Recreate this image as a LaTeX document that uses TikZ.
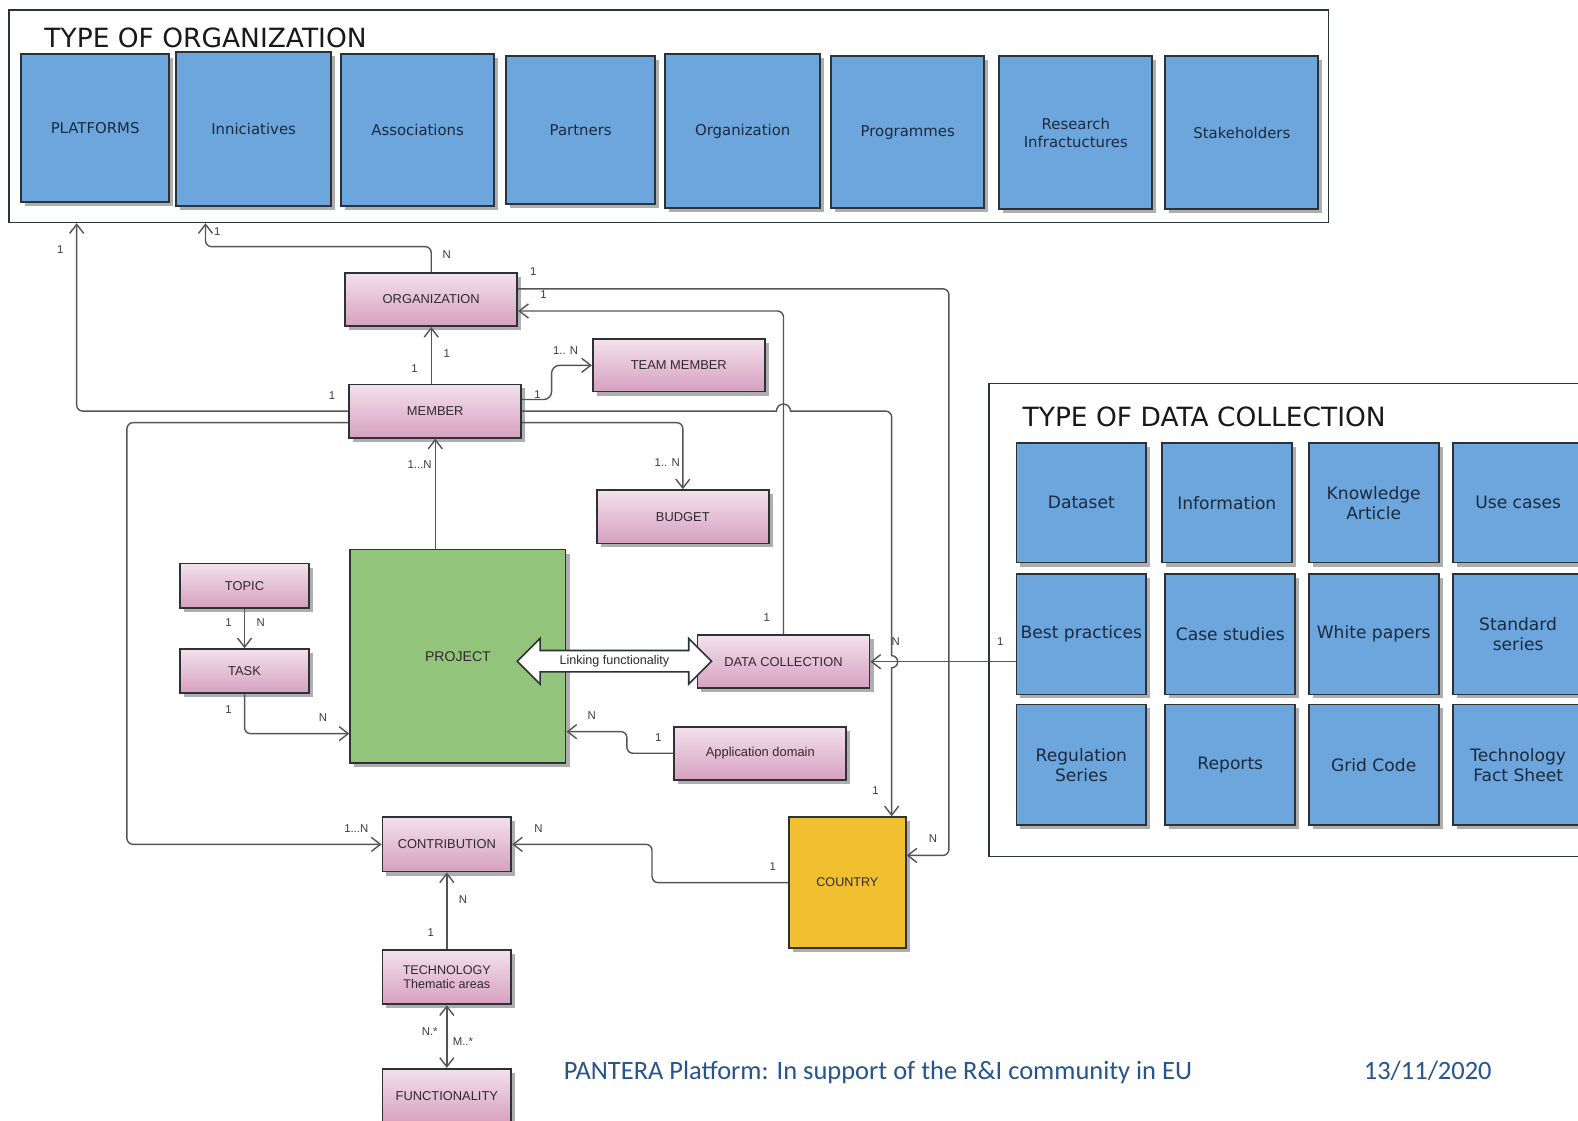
\documentclass[tikz,border=0pt]{standalone}
\usepackage{fontspec}
\newfontfamily\verd{DejaVu Sans}
\newfontfamily\arl{Liberation Sans}
\newfontfamily\calfont{Carlito}
\usetikzlibrary{arrows.meta,shadows,shapes.arrows,calc}
\definecolor{bluefill}{RGB}{108,166,220}
\definecolor{bluetext}{RGB}{28,42,62}
\definecolor{boxline}{RGB}{45,50,55}
\definecolor{pinktop}{RGB}{243,225,235}
\definecolor{pinkbot}{RGB}{214,160,192}
\definecolor{pinktext}{RGB}{50,40,48}
\definecolor{greenfill}{RGB}{146,196,124}
\definecolor{yellowfill}{RGB}{240,192,48}
\definecolor{conncolor}{RGB}{85,85,85}
\definecolor{labelcolor}{RGB}{60,60,60}
\definecolor{footblue}{RGB}{38,84,140}
\tikzset{
  shad/.style={drop shadow={shadow xshift=4pt,shadow yshift=-4pt,fill=black!45,opacity=0.7}},
  bluebox/.style={draw=boxline, line width=1.8pt, fill=bluefill, shad, text=bluetext,
    font=\verd\fontsize{14.8}{18}\selectfont, inner sep=2pt, align=center},
  dcbox/.style={bluebox, font=\verd\fontsize{17}{20}\selectfont, minimum width=129pt, minimum height=119pt},
  pinkbox/.style={draw=boxline, line width=1.8pt, top color=pinktop, bottom color=pinkbot, shad,
    text=pinktext, font=\arl\fontsize{12.8}{14}\selectfont, align=center, inner sep=2pt},
  solidbox/.style={draw=boxline, line width=1.8pt, shad, text=pinktext, font=\arl\fontsize{14}{16}\selectfont, inner sep=2pt},
  framebox/.style={draw=boxline, line width=1.6pt, inner sep=0pt},
  conn/.style={draw=conncolor, line width=1.4pt, rounded corners=6pt, -{Straight Barb[length=9pt,width=14pt]}},
  lbl/.style={font=\arl\fontsize{11.3}{12}\selectfont, text=labelcolor, inner sep=0pt},
  title/.style={anchor=base west, inner sep=0pt, font=\verd\fontsize{26.3}{28}\selectfont, text=black!90},
  footer/.style={anchor=base west, inner sep=0pt, font=\calfont\fontsize{26.3}{30}\selectfont, text=footblue},
}
\begin{document}
\begin{tikzpicture}[x=1pt,y=-1pt]
\useasboundingbox (0,0) rectangle (1568,1113);
\fill[white] (0,0) rectangle (1568,1113);
\clip (0,0) rectangle (1568,1113);

% ---------- type of organization ----------
\node[framebox, minimum width=1311pt, minimum height=211pt] (orgframe) at (664.5,115.5) {};
\node[title] (t1) at (44,47) {TYPE OF ORGANIZATION};
\node[bluebox, minimum width=147pt, minimum height=147pt] (b1) at (94.5,127.5) {PLATFORMS};
\node[bluebox, minimum width=154pt, minimum height=153pt] (b2) at (252,128.5) {Inniciatives};
\node[bluebox, minimum width=152pt, minimum height=151pt] (b3) at (415,129.5) {Associations};
\node[bluebox, minimum width=148pt, minimum height=147pt] (b4) at (577,129.5) {Partners};
\node[bluebox, minimum width=154pt, minimum height=153pt] (b5) at (738,130.5) {Organization};
\node[bluebox, minimum width=152pt, minimum height=151pt] (b6) at (902,131.5) {Programmes};
\node[bluebox, minimum width=152pt, minimum height=152pt] (b7) at (1069,132) {Research\\Infractuctures};
\node[bluebox, minimum width=152pt, minimum height=152pt] (b8) at (1234,132) {Stakeholders};

% ---------- type of data collection ----------
\node[framebox, minimum width=700pt, minimum height=470pt] (dcframe) at (1333,616) {};
\node[title] (t2) at (1016,424) {TYPE OF DATA COLLECTION};
\node[dcbox] (d1) at (1074.5,499.5) {Dataset};
\node[dcbox] (d2) at (1219,499.5) {Information};
\node[dcbox] (d3) at (1365,499.5) {Knowledge\\Article};
\node[dcbox] (d4) at (1508.5,499.5) {Use cases};
\node[dcbox, minimum height=120pt] (bp) at (1074.5,630) {Best practices};
\node[dcbox, minimum height=120pt] (d6) at (1222.5,630) {Case studies};
\node[dcbox, minimum height=120pt] (d7) at (1365,630) {White papers};
\node[dcbox, minimum height=120pt] (d8) at (1508.5,630) {Standard\\series};
\node[dcbox, minimum height=120pt] (d9) at (1074.5,760) {Regulation\\Series};
\node[dcbox, minimum height=120pt] (d10) at (1222.5,760) {Reports};
\node[dcbox, minimum height=120pt] (d11) at (1365,760) {Grid Code};
\node[dcbox, minimum height=120pt] (d12) at (1508.5,760) {Technology\\Fact Sheet};

% ---------- entities ----------
\node[pinkbox, minimum width=171pt, minimum height=53pt] (org) at (428.5,297.5) {ORGANIZATION};
\node[pinkbox, minimum width=171pt, minimum height=52pt] (tm) at (674.5,363) {TEAM MEMBER};
\node[pinkbox, minimum width=171pt, minimum height=53pt] (mem) at (432.5,408.5) {MEMBER};
\node[pinkbox, minimum width=171pt, minimum height=53pt] (budget) at (678.5,513.5) {BUDGET};
\node[pinkbox, minimum width=128pt, minimum height=44pt] (topic) at (243,582) {TOPIC};
\node[pinkbox, minimum width=128pt, minimum height=44pt] (task) at (243,667) {TASK};
\node[solidbox, fill=greenfill, minimum width=214pt, minimum height=212pt] (proj) at (455,652) {PROJECT};
\node[pinkbox, minimum width=171pt, minimum height=53pt] (dc) at (778.5,657.5) {DATA COLLECTION};
\node[pinkbox, minimum width=171pt, minimum height=53pt] (appd) at (755.5,748.5) {Application domain};
\node[pinkbox, minimum width=128pt, minimum height=54pt] (contrib) at (444,839) {CONTRIBUTION};
\node[solidbox, fill=yellowfill, minimum width=116pt, minimum height=130pt, font=\arl\fontsize{12.5}{14}\selectfont] (country) at (842,877) {COUNTRY};
\node[pinkbox, minimum width=128pt, minimum height=54pt, font=\arl\fontsize{12.5}{13.5}\selectfont] (tech) at (444,971) {TECHNOLOGY\\Thematic areas};
\node[pinkbox, minimum width=128pt, minimum height=54pt] (func) at (444,1089) {FUNCTIONALITY};

\coordinate (cxn) at ([xshift=44pt]country.north);

% ---------- connectors ----------
\draw[conn] (mem.west) -| ([xshift=68pt]orgframe.south west);
\draw[conn] (org.north) -- ++(0,-25) -| ([xshift=196pt]orgframe.south west);
\draw[conn] (mem.north -| org.south) -- (org.south);
\draw[conn, rounded corners=8pt] ([yshift=11.5pt]mem.east) -| ([xshift=-40pt]tm.west) -- (tm.west);
\draw[conn, sharp corners] (mem.east) -- ($(mem.east -| dc.north)+(-7,0)$) arc[start angle=180,end angle=0,radius=7pt]
   -- ($(mem.east -| cxn)+(-6,0)$) arc[start angle=90,end angle=0,radius=6pt]
   -- ($(cxn |- dc.east)+(0,-6)$) arc[start angle=90,end angle=-90,radius=6pt] -- (cxn);
\draw[conn] ([yshift=-11.5pt]mem.east) -| (budget.north);
\draw[conn] ([yshift=-11.5pt]mem.west) -| ([xshift=-253pt]contrib.west) -- (contrib.west);
\draw[conn] (mem.south |- proj.north) -- (mem.south);
\draw[conn] (dc.north) |- ([yshift=-11.5pt]org.east);
\draw[conn] ([yshift=10.5pt]org.east) -| ([xshift=42pt,yshift=27pt]country.east) -- ([yshift=27pt]country.east);
\draw[conn] (topic.south) -- (task.north);
\draw[conn] (task.south) |- ([yshift=-77pt]proj.west);
\draw[conn] (appd.west) -| ([xshift=60pt,yshift=-75pt]proj.east) -- ([yshift=-75pt]proj.east);
\draw[conn] (country.west) -| ([xshift=139pt]contrib.east) -- (contrib.east);
\draw[conn] (tech.north) -- (contrib.south);
\draw[conn, {Straight Barb[length=9pt,width=14pt]}-{Straight Barb[length=9pt,width=14pt]}] (tech.south) -- (func.north);
\draw[conn] (bp.west |- dc.east) -- (dc.east);

\node[double arrow, draw=boxline, line width=1.6pt, fill=white, minimum height=193pt,
  double arrow head extend=12pt, inner ysep=4pt, inner xsep=2pt,
  font=\arl\fontsize{12.5}{14}\selectfont, text=pinktext] (link) at (610.5,657) {Linking functionality};

% ---------- labels ----------
\node[lbl] (la1) at (60,248) {1};
\node[lbl] (la2) at (216,230) {1};
\node[lbl] (la3) at (444,253) {N};
\node[lbl] (la4) at (530,270) {1};
\node[lbl] (la5) at (540,293) {1};
\node[lbl] (la6) at (444,351) {1};
\node[lbl] (la7) at (412,366) {1};
\node[lbl] (la8) at (562,348) {1.. N};
\node[lbl] (la9) at (330,393) {1};
\node[lbl] (la10) at (534,392) {1};
\node[lbl] (la11) at (417,462) {1...N};
\node[lbl] (la12) at (663,460) {1.. N};
\node[lbl] (la13) at (227,619) {1};
\node[lbl] (la14) at (259,619) {N};
\node[lbl] (la15) at (762,614) {1};
\node[lbl] (la16) at (890,638) {N};
\node[lbl] (la17) at (994,638) {1};
\node[lbl] (la18) at (227,705) {1};
\node[lbl] (la19) at (321,713) {N};
\node[lbl] (la20) at (588,711) {N};
\node[lbl] (la21) at (654,733) {1};
\node[lbl] (la22) at (870,786) {1};
\node[lbl] (la23) at (354,823) {1...N};
\node[lbl] (la24) at (535,823) {N};
\node[lbl] (la25) at (927,833) {N};
\node[lbl] (la26) at (768,861) {1};
\node[lbl] (la27) at (460,894) {N};
\node[lbl] (la28) at (428,927) {1};
\node[lbl] (la29) at (427,1025) {N.*};
\node[lbl] (la30) at (460,1035) {M..*};

% ---------- footer ----------
\node[footer] (foot) at (560,1073) {PANTERA Platform: In support of the R\&I community in EU};
\node[footer] (date) at (1355,1073) {13/11/2020};
\end{tikzpicture}
\end{document}
